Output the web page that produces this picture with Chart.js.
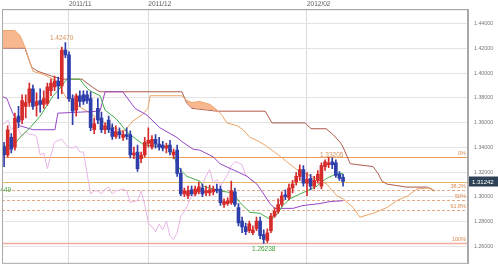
<!DOCTYPE html>
<html>
<head>
<meta charset="utf-8">
<script src="https://cdn.jsdelivr.net/npm/chart.js@4.4.0/dist/chart.umd.min.js"></script>
<style>
  html, body { margin: 0; padding: 0; background: #fff; }
  #wrap { width: 498px; height: 273px; }
</style>
</head>
<body>
<div id="wrap"><canvas id="myChart" width="498" height="273"></canvas></div>
<script>
// daily candles, index 0 = 2011/10/06 (weekdays)
const open = [
  1.3402, 1.3339, 1.3481, 1.3402, 1.3653, 1.3622, 1.3732, 1.3763, 1.3873, 1.3740,
  1.3779, 1.3748, 1.3756, 1.3858, 1.3889, 1.3936, 1.3897, 1.4188, 1.4148, 1.3795,
  1.3701, 1.3818, 1.3826, 1.3826, 1.3795, 1.3543, 1.3716, 1.3638, 1.3543, 1.3622,
  1.3559, 1.3488, 1.3528, 1.3481, 1.3504, 1.3504, 1.3339, 1.3363, 1.3308, 1.3339,
  1.3433, 1.3402, 1.3465, 1.3426, 1.3418, 1.3394, 1.3418, 1.3339, 1.3378, 1.3190,
  1.3024, 1.3009, 1.3056, 1.3024, 1.3040, 1.3072, 1.3032, 1.3032, 1.3040, 1.3064,
  1.3064, 1.2938, 1.2946, 1.2954, 1.3040, 1.2914, 1.2805, 1.2757, 1.2726, 1.2710,
  1.2742, 1.2805, 1.2695, 1.2647, 1.2726, 1.2844, 1.2883, 1.2938, 1.3016, 1.2993,
  1.3072, 1.3119, 1.3166, 1.3221, 1.3111, 1.3150, 1.3087, 1.3134, 1.3087, 1.3245,
  1.3260, 1.3284, 1.3276, 1.3182, 1.3158
];
const high = [
  1.3441, 1.3575, 1.3512, 1.3677, 1.3732, 1.3826, 1.3826, 1.3921, 1.3905, 1.3842,
  1.3873, 1.3858, 1.3921, 1.3952, 1.3976, 1.3968, 1.4211, 1.4247, 1.4172, 1.3826,
  1.3834, 1.3858, 1.3858, 1.3858, 1.3850, 1.3638, 1.3795, 1.3685, 1.3598, 1.3653,
  1.3591, 1.3575, 1.3559, 1.3535, 1.3559, 1.3535, 1.3402, 1.3418, 1.3363, 1.3481,
  1.3559, 1.3496, 1.3504, 1.3481, 1.3449, 1.3433, 1.3457, 1.3386, 1.3418, 1.3229,
  1.3072, 1.3087, 1.3087, 1.3087, 1.3119, 1.3103, 1.3087, 1.3095, 1.3087, 1.3103,
  1.3087, 1.2985, 1.2993, 1.3127, 1.3072, 1.2946, 1.2836, 1.2789, 1.2805, 1.2765,
  1.2836, 1.2836, 1.2734, 1.2742, 1.2867, 1.2914, 1.2985, 1.3040, 1.3056, 1.3103,
  1.3134, 1.3197, 1.3260, 1.3253, 1.3197, 1.3182, 1.3166, 1.3213, 1.3276, 1.3300,
  1.33205, 1.3316, 1.3300, 1.3205, 1.3182
];
const low = [
  1.3245, 1.3323, 1.3355, 1.3378, 1.3559, 1.3591, 1.3638, 1.3732, 1.3708, 1.3653,
  1.3685, 1.3716, 1.3740, 1.3818, 1.3858, 1.3795, 1.3834, 1.4125, 1.3771, 1.3583,
  1.3653, 1.3732, 1.3748, 1.3756, 1.3535, 1.3512, 1.3591, 1.3520, 1.3512, 1.3520,
  1.3465, 1.3473, 1.3473, 1.3457, 1.3465, 1.3316, 1.3308, 1.3205, 1.3276, 1.3323,
  1.3402, 1.3386, 1.3394, 1.3378, 1.3371, 1.3355, 1.3339, 1.3308, 1.3166, 1.3009,
  1.3001, 1.2985, 1.3009, 1.3009, 1.3024, 1.3001, 1.3009, 1.3009, 1.3016, 1.3032,
  1.2930, 1.2914, 1.2930, 1.2938, 1.2922, 1.2765, 1.2710, 1.2695, 1.2710, 1.2695,
  1.2726, 1.2663, 1.26238, 1.2632, 1.2710, 1.2836, 1.2867, 1.2922, 1.2977, 1.2977,
  1.3032, 1.3095, 1.3134, 1.3087, 1.3009, 1.3056, 1.3064, 1.3111, 1.3064, 1.3213,
  1.3237, 1.3229, 1.3158, 1.3134, 1.3087
];
const close = [
  1.3339, 1.3543, 1.3386, 1.3638, 1.3606, 1.3779, 1.3763, 1.3873, 1.3732, 1.3771,
  1.3748, 1.3795, 1.3889, 1.3921, 1.3936, 1.3897, 1.4188, 1.4148, 1.3795, 1.3693,
  1.3818, 1.3771, 1.3771, 1.3779, 1.3559, 1.3591, 1.3622, 1.3543, 1.3575, 1.3543,
  1.3488, 1.3528, 1.3504, 1.3504, 1.3488, 1.3339, 1.3355, 1.3229, 1.3339, 1.3441,
  1.3457, 1.3465, 1.3426, 1.3402, 1.3394, 1.3410, 1.3363, 1.3363, 1.3190, 1.3024,
  1.3048, 1.3048, 1.3024, 1.3064, 1.3079, 1.3024, 1.3048, 1.3056, 1.3064, 1.3048,
  1.2954, 1.2962, 1.2969, 1.3048, 1.2938, 1.2789, 1.2757, 1.2718, 1.2781, 1.2734,
  1.2805, 1.2687, 1.2655, 1.2710, 1.2844, 1.2883, 1.2938, 1.3009, 1.3001, 1.3072,
  1.3103, 1.3166, 1.3221, 1.3111, 1.3142, 1.3087, 1.3134, 1.3182, 1.3253, 1.3284,
  1.3276, 1.3260, 1.3174, 1.3150, 1.31242
];

// ichimoku lines as [bar index, price]
const tenkan = [
  [-1, 1.3402], [2.7, 1.3418], [4.4, 1.3481], [7.2, 1.3559], [10, 1.3653], [11.9, 1.3740],
  [13.6, 1.3818], [14.9, 1.3858], [17.4, 1.3952], [21, 1.3952], [22.4, 1.3897], [23.8, 1.3858],
  [26.6, 1.3818], [28, 1.3701], [30.8, 1.3638], [32.1, 1.3598], [33.5, 1.3543], [34.9, 1.3504],
  [38.5, 1.3426], [39.6, 1.3418], [44.1, 1.3402], [45.5, 1.3418], [46.8, 1.3347], [47.9, 1.3268],
  [48.8, 1.3221], [50.7, 1.3166], [54.3, 1.3127], [55.2, 1.3087], [59.9, 1.3048], [63.5, 1.3032],
  [65.4, 1.2954], [68.2, 1.2875], [71, 1.2867], [73.2, 1.2828], [74.6, 1.2828], [75.9, 1.2867],
  [77.3, 1.2930], [79.3, 1.2985], [82.1, 1.3024], [84, 1.3048], [86.8, 1.3087], [87.6, 1.3111],
  [89.5, 1.3150], [91.8, 1.3182], [94, 1.3190]
];
const kijun = [
  [-1, 1.3818], [0.8, 1.3795], [1.6, 1.3732], [3, 1.3638], [4.4, 1.3575], [8, 1.3543],
  [14.1, 1.3543], [14.9, 1.3677], [26.6, 1.3693], [28, 1.3850], [32.9, 1.3850], [36.3, 1.3716],
  [39.6, 1.3661], [43.2, 1.3559], [47.9, 1.3481], [49.6, 1.3441], [52.4, 1.3386], [54.3, 1.3378],
  [58, 1.3323], [59.9, 1.3268], [62.7, 1.3229], [64.6, 1.3205], [67.4, 1.3166], [70.1, 1.3103],
  [71.8, 1.3032], [73.7, 1.2946], [75.1, 1.2907], [80.1, 1.2907], [82.9, 1.2930], [87.6, 1.2946],
  [90.4, 1.2962], [94, 1.2969]
];
const senkouA = [
  [-1, 1.4345], [3, 1.4345], [4.4, 1.4306], [5.8, 1.4211], [7.2, 1.4086], [8, 1.4015],
  [10.8, 1.3991], [14.7, 1.3936], [16.1, 1.3858], [17.4, 1.3795], [20.2, 1.3740], [23, 1.3693],
  [26.6, 1.3622], [29.4, 1.3575], [32.1, 1.3535], [33.5, 1.3535], [35.7, 1.3614], [38.2, 1.3661],
  [39.9, 1.3716], [40.5, 1.3818], [49.3, 1.3818], [50.7, 1.3779], [52.1, 1.3763], [54.3, 1.3771],
  [57.1, 1.3748], [59.1, 1.3701], [60.4, 1.3661], [61.8, 1.3598], [64.6, 1.3575], [66.3, 1.3543],
  [68.2, 1.3481], [70.1, 1.3457], [72.4, 1.3418], [75.7, 1.3347], [78.4, 1.3284], [81.2, 1.3221],
  [84, 1.3182], [86.8, 1.3142], [89.5, 1.3103], [92.3, 1.3009], [94, 1.2985], [96.8, 1.2914],
  [98.7, 1.2836], [102.3, 1.2867], [106.2, 1.2914], [108.9, 1.2969], [112, 1.3009], [114.5, 1.3064],
  [118.1, 1.3072], [119.5, 1.3048]
];
const senkouB = [
  [-1, 1.4203], [5.8, 1.4203], [6.6, 1.4133], [7.7, 1.4046], [9.4, 1.4015], [14.1, 1.3968],
  [16.1, 1.3952], [21.6, 1.3952], [23.3, 1.3913], [25.2, 1.3873], [26.6, 1.3850], [49.3, 1.3850],
  [50.7, 1.3756], [52.1, 1.3716], [59.1, 1.3693], [72.4, 1.3693], [74.3, 1.3598], [83.5, 1.3598],
  [85.1, 1.3551], [89.3, 1.3551], [91.2, 1.3504], [93.2, 1.3441], [94, 1.3402], [96, 1.3268],
  [102.3, 1.3245], [103.7, 1.3190], [104.8, 1.3127], [106.2, 1.3103], [111.7, 1.3079],
  [117.3, 1.3079], [119.5, 1.3048]
];
const chikouShift = 25;

// fibonacci retracement from 1.33205 down to 1.26238
const fibLevels = [1.33205, 1.30544, 1.29722, 1.28899, 1.26238];
const fibNames = ['0%', '38.2%', '50%', '61.8%', '100%'];
const lastPrice = 1.31242;

const monthTicks = [18, 40, 84];
const monthLabels = ['2011/11', '2011/12', '2012/02'];
const priceTicks = [1.26, 1.28, 1.30, 1.32, 1.34, 1.36, 1.38, 1.40, 1.42, 1.44];

const UP = '#d52b2b';
const DOWN = '#2e3eaa';
const candleColor = close.map((c, i) => c >= open[i] ? UP : DOWN);
const pts = arr => arr.map(p => ({x: p[0], y: p[1]}));

const overlay = {
  id: 'overlay',
  beforeDatasetsDraw(chart) {
    const {ctx, chartArea: a, scales: {y}} = chart;
    ctx.save();
    ctx.lineWidth = 1;
    // last price line
    let py = Math.round(y.getPixelForValue(lastPrice)) + 0.5;
    ctx.strokeStyle = '#e8b867';
    ctx.beginPath(); ctx.moveTo(a.left, py); ctx.lineTo(a.right, py); ctx.stroke();
    fibLevels.forEach((v, k) => {
      py = Math.round(y.getPixelForValue(v)) + 0.5;
      const solid = k === 0 || k === fibLevels.length - 1;
      ctx.setLineDash(solid ? [] : [3, 2]);
      ctx.strokeStyle = k === 0 ? '#eb9b5a' : (solid ? '#f0ab9c' : '#e3a887');
      ctx.lineWidth = k === fibLevels.length - 1 ? 1.5 : 1;
      ctx.beginPath(); ctx.moveTo(a.left, py); ctx.lineTo(a.right, py); ctx.stroke();
    });
    ctx.restore();
  },
  afterDatasetsDraw(chart) {
    const {ctx, chartArea: a, scales: {x, y}} = chart;
    ctx.save();
    ctx.font = "5.5px 'Liberation Sans', Arial, sans-serif";
    ctx.fillStyle = '#d9894e';
    ctx.textAlign = 'right';
    ctx.textBaseline = 'bottom';
    fibLevels.forEach((v, k) => {
      ctx.fillText(fibNames[k], a.right - 2, y.getPixelForValue(v) - 1);
    });
    ctx.font = "6.5px 'Liberation Sans', Arial, sans-serif";
    // high / low marks
    const hi = high.indexOf(Math.max(...high));
    ctx.fillStyle = '#d6935a';
    ctx.textAlign = 'right';
    ctx.fillText(high[hi].toFixed(5), x.getPixelForValue(hi) + 8, y.getPixelForValue(high[hi]) - 1);
    const top = high.indexOf(fibLevels[0]);
    ctx.textAlign = 'center';
    ctx.fillText(fibLevels[0].toFixed(5), x.getPixelForValue(top) + 3, y.getPixelForValue(fibLevels[0]) + 1);
    const lo = low.indexOf(Math.min(...low));
    ctx.fillStyle = '#3ea23e';
    ctx.textBaseline = 'top';
    ctx.fillText(low[lo].toFixed(5), x.getPixelForValue(lo), y.getPixelForValue(low[lo]) + 3);
    ctx.textAlign = 'right';
    ctx.textBaseline = 'middle';
    ctx.fillText('1.31449', a.left + 9, 190);
    ctx.restore();
  },
  afterDraw(chart) {
    const {ctx, chartArea: a, scales: {y}} = chart;
    ctx.save();
    ctx.strokeStyle = '#a8a8a8';
    ctx.lineWidth = 1;
    ctx.strokeRect(a.left + 0.5, a.top + 0.5, a.right - a.left - 1, a.bottom - a.top - 1);
    // last price tag
    const py = y.getPixelForValue(lastPrice);
    ctx.fillStyle = '#2f4156';
    ctx.fillRect(a.right + 1, py - 5, chart.width - a.right - 1, 10);
    ctx.fillStyle = '#fff';
    ctx.font = "6px 'Liberation Sans', Arial, sans-serif";
    ctx.textAlign = 'left';
    ctx.textBaseline = 'middle';
    ctx.fillText(lastPrice.toFixed(5), a.right + 4, py + 0.5);
    ctx.restore();
  }
};

Chart.defaults.font.family = "'Liberation Sans', Arial, sans-serif";

const lineSet = (label, data, color) => ({
  type: 'line', label: label, data: data, borderColor: color, borderWidth: 1,
  pointRadius: 0, tension: 0, fill: false
});

new Chart(document.getElementById('myChart'), {
  type: 'bar',
  data: {
    datasets: [
      {
        label: 'body',
        data: close.map((c, i) => ({x: i, y: [open[i], c]})),
        backgroundColor: candleColor,
        barThickness: 3, grouped: false, minBarLength: 1
      },
      {
        label: 'wick',
        data: close.map((c, i) => ({x: i, y: [low[i], high[i]]})),
        backgroundColor: candleColor,
        barThickness: 1, grouped: false
      },
      lineSet('tenkan', pts(tenkan), '#43b04a'),
      lineSet('kijun', pts(kijun), '#9747c6'),
      Object.assign(lineSet('senkouA', pts(senkouA), '#eda468'), {
        fill: {target: '+1', above: 'rgba(245,165,115,0.8)', below: 'rgba(0,0,0,0)'}
      }),
      lineSet('senkouB', pts(senkouB), '#a5564e'),
      lineSet('chikou', close.map((c, i) => ({x: i - chikouShift, y: c})), '#e7b6e6')
    ]
  },
  options: {
    responsive: false,
    animation: false,
    events: [],
    layout: { padding: { left: 2, right: 0, top: 0, bottom: 3 } },
    plugins: { legend: { display: false }, tooltip: { enabled: false } },
    scales: {
      x: {
        type: 'linear', position: 'top', min: -0.58, max: 128.65, offset: false,
        grid: { color: '#dadada', drawTicks: false, offset: false },
        border: { color: '#a8a8a8' },
        afterBuildTicks: s => { s.ticks = monthTicks.map(v => ({value: v})); },
        afterFit: s => { s.height = 8; },
        ticks: {
          align: 'start', padding: 1, autoSkip: false, maxRotation: 0,
          font: { size: 6.5 }, color: '#555',
          callback: v => monthLabels[monthTicks.indexOf(v)]
        }
      },
      y: {
        type: 'linear', position: 'right', min: 1.24586, max: 1.45179,
        grid: { color: '#e3e3e3', drawTicks: false },
        border: { color: '#a8a8a8' },
        afterBuildTicks: s => { s.ticks = priceTicks.map(v => ({value: v})); },
        afterFit: s => { s.width = 30; },
        ticks: {
          padding: 6, font: { size: 5.3 }, color: '#777',
          callback: v => v.toFixed(5)
        }
      }
    }
  },
  plugins: [overlay]
});
</script>
</body>
</html>
